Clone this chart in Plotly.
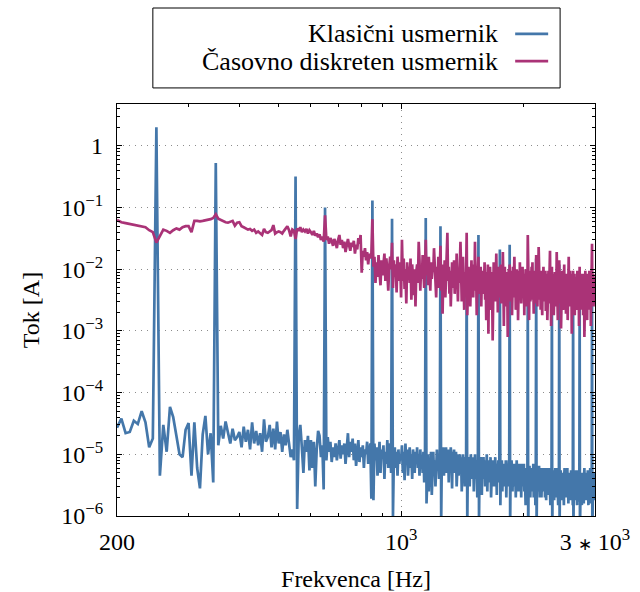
import plotly.graph_objects as go

# Frequency grid (Hz), 5 Hz resolution
frekvenca = list(range(200, 3001, 5))

# Klasični usmernik – current amplitude [A]
klasicni = [
    2.7e-5, 3.8e-5, 2.2e-5, 2.3e-5, 3.5e-5, 3.1e-5, 5.0e-5, 3.3e-5, 1.3e-5, 1.8e-5,   # 200
    2.0, 4.5e-6, 3.0e-5, 1.1e-5, 5.9e-5, 4.0e-5, 2.0e-5, 1.0e-5, 9e-6, 2.5e-5,        # 250
    3.2e-5, 4.5e-6, 3.3e-5, 6e-6, 2.8e-6, 2.1e-5, 4.2e-5, 1.0e-5, 2.2e-5, 3.5e-6,     # 300
    0.53, 1.4e-5, 2.9e-5, 1.8e-5, 3.4e-5, 2.2e-5, 1.5e-5, 2.6e-5, 1.7e-5, 1.9e-5,     # 350
    2.3e-5, 1.3e-5, 2.8e-5, 1.6e-5, 2.5e-5, 1.2e-5, 3.3e-5, 1.5e-5, 2.4e-5, 1.4e-5,   # 400
    2.2e-5, 1.1e-5, 3.7e-5, 1.6e-5, 1.9e-5, 3.0e-5, 1.3e-5, 2.6e-5, 1.2e-5, 3.4e-5,   # 450
    1.5e-5, 2.3e-5, 1.1e-5, 2.1e-5, 1.4e-5, 2.5e-5, 1.6e-5, 9e-6, 1.2e-5, 8e-6,       # 500
    0.32, 1.3e-6, 2.0e-5, 3.0e-5, 1.3e-5, 5e-6, 1.7e-5, 1.1e-5, 2.0e-5, 5.5e-6,       # 550
    1.7e-5, 6e-6, 1.6e-5, 3.0e-6, 1.2e-5, 2.4e-5, 2.0e-5, 9e-6, 1.4e-5, 2.7e-6,       # 600
    0.1, 8e-6, 1.9e-5, 1.1e-5, 1.6e-5, 7.5e-6, 1.3e-5, 9e-6, 1.5e-5, 8e-6,            # 650
    1.2e-5, 1.7e-5, 8.5e-6, 1.4e-5, 1.0e-5, 1.5e-5, 7e-6, 1.3e-5, 2.2e-5, 9e-6,       # 700
    1.6e-5, 1.1e-5, 1.8e-5, 8e-6, 1.5e-5, 6.5e-6, 1.2e-5, 1.7e-5, 7.5e-6, 1.3e-5,     # 750
    9e-6, 1.4e-5, 6e-6, 1.2e-5, 1.0e-5, 1.6e-5, 7e-6, 1.1e-5, 1.5e-5, 1.9e-6,         # 800
    0.13, 1.8e-6, 1.5e-5, 8e-6, 1.3e-5, 4.5e-6, 1.1e-5, 1.6e-5, 5e-6, 1.2e-5,         # 850
    9e-6, 1.4e-5, 4e-6, 1.1e-5, 7e-6, 1.7e-5, 6e-6, 1.0e-5, 1.5e-5, 5e-6,             # 900
    0.066, 1.0e-6, 9e-6, 1.3e-5, 6e-6, 1.1e-5, 4.5e-6, 1.2e-5, 7e-6, 1.0e-5,          # 950
    8e-6, 1.4e-5, 5e-6, 1.1e-5, 3.8e-6, 1.5e-5, 7e-6, 1.2e-5, 4.5e-6, 9e-6,           # 1000
    1.3e-5, 6e-6, 1.0e-5, 4e-6, 1.2e-5, 8e-6, 5e-6, 1.1e-5, 7e-6, 1.3e-5,             # 1050
    6e-6, 1.0e-5, 4.5e-6, 1.2e-5, 7e-6, 9e-6, 5e-6, 1.1e-5, 3.5e-6, 8e-6,             # 1100
    0.068, 1.6e-6, 7e-6, 1.0e-5, 2.5e-6, 8e-6, 5e-6, 1.1e-5, 2.2e-6, 7e-6,            # 1150
    1.1e-5, 5e-6, 8e-6, 3e-6, 9e-6, 1.2e-5, 6e-6, 1.0e-5, 4e-6, 7e-6,                 # 1200
    0.05, 8e-7, 1.0e-5, 6e-6, 1.3e-5, 4.5e-6, 1.1e-5, 7e-6, 1.3e-5, 5e-6,             # 1250
    9e-6, 1.2e-5, 3.5e-6, 1.0e-5, 6e-6, 1.3e-5, 8e-6, 2.8e-6, 1.1e-5, 7e-6,           # 1300
    1.2e-5, 5e-6, 9e-6, 1.1e-5, 3e-6, 8e-6, 1.0e-5, 4.5e-6, 7e-6, 1.0e-5,             # 1350
    6e-6, 9e-6, 2.5e-6, 8e-6, 1.0e-5, 5e-6, 7e-6, 3e-6, 9e-6, 4e-6,                   # 1400
    0.012, 7e-7, 8e-6, 5e-6, 9e-6, 3e-6, 7e-6, 1.0e-5, 4e-6, 8e-6,                    # 1450
    5e-6, 9e-6, 2.5e-6, 7e-6, 1.0e-5, 4e-6, 6e-6, 8e-6, 2e-6, 6e-6,                   # 1500
    0.036, 8e-7, 7e-6, 4e-6, 9e-6, 5e-6, 2.2e-6, 8e-6, 6e-6, 9e-6,                    # 1550
    4e-6, 7e-6, 3e-6, 8e-6, 5e-6, 1.0e-5, 2.5e-6, 6e-6, 8e-6, 3.5e-6,                 # 1600
    7e-6, 5e-6, 9e-6, 2e-6, 6e-6, 8e-6, 4e-6, 7e-6, 3e-6, 8e-6,                       # 1650
    5e-6, 9e-6, 3e-6, 6e-6, 2.2e-6, 7e-6, 5e-6, 8e-6, 3.5e-6, 6e-6,                   # 1700
    0.021, 1.5e-6, 6e-6, 4e-6, 8e-6, 2.5e-6, 6e-6, 4.5e-6, 7e-6, 3e-6,                # 1750
    7e-6, 4e-6, 8e-6, 2e-6, 5e-6, 7e-6, 3e-6, 6e-6, 8e-6, 4e-6,                       # 1800
    0.025, 7e-7, 6e-6, 3.5e-6, 8e-6, 5e-6, 2.5e-6, 7e-6, 4e-6, 6e-6,                  # 1850
    3e-6, 7e-6, 5e-6, 2e-6, 6e-6, 8e-6, 3.5e-6, 5e-6, 7e-6, 2.5e-6,                   # 1900
    6e-6, 4e-6, 7e-6, 3e-6, 5.5e-6, 2e-6, 6e-6, 4e-6, 7e-6, 3e-6,                     # 1950
    5e-6, 7e-6, 2.5e-6, 6e-6, 4e-6, 1.5e-6, 6e-6, 3e-6, 5e-6, 2e-6,                   # 2000
    0.007, 5e-7, 5e-6, 3e-6, 6.5e-6, 4e-6, 2e-6, 6e-6, 3.5e-6, 5e-6,                  # 2050
    2.5e-6, 6e-6, 4e-6, 7e-6, 2e-6, 5e-6, 3.5e-6, 6e-6, 1.5e-6, 5e-6,                 # 2100
    0.015, 6e-7, 4e-6, 6e-6, 2.5e-6, 5e-6, 3e-6, 6.5e-6, 4e-6, 2e-6,                  # 2150
    5e-6, 3e-6, 6e-6, 2e-6, 4.5e-6, 6e-6, 3e-6, 5e-6, 2.5e-6, 6e-6,                   # 2200
    3.5e-6, 5e-6, 2e-6, 6e-6, 4e-6, 1.8e-6, 5e-6, 3e-6, 6e-6, 4e-6,                   # 2250
    2.2e-6, 5e-6, 3.5e-6, 6e-6, 2.5e-6, 4.5e-6, 1.5e-6, 5e-6, 3e-6, 4e-6,             # 2300
    0.005, 5e-7, 4e-6, 2.5e-6, 5.5e-6, 3.5e-6, 1.8e-6, 5e-6, 3e-6, 6e-6,              # 2350
    4e-6, 2e-6, 5e-6, 3e-6, 6e-6, 2.5e-6, 4.5e-6, 1.5e-6, 5e-6, 3e-6,                 # 2400
    0.012, 6e-7, 4.5e-6, 2.5e-6, 5.5e-6, 3e-6, 4e-6, 1.8e-6, 5e-6, 3.5e-6,            # 2450
    2.5e-6, 5e-6, 3.5e-6, 1.5e-6, 4.5e-6, 6e-6, 2.5e-6, 4e-6, 3e-6, 5e-6,             # 2500
    2e-6, 4.5e-6, 3e-6, 6e-6, 2.2e-6, 4e-6, 1.6e-6, 5e-6, 3.5e-6, 2.5e-6,             # 2550
    5e-6, 3e-6, 4.5e-6, 1.8e-6, 5.5e-6, 3e-6, 2.2e-6, 4.5e-6, 3.5e-6, 1.5e-6,         # 2600
    0.004, 5e-7, 4e-6, 2.5e-6, 5e-6, 3e-6, 1.8e-6, 4.5e-6, 3.5e-6, 5.5e-6,            # 2650
    2.5e-6, 4.5e-6, 1.5e-6, 5e-6, 3e-6, 4e-6, 2e-6, 5.5e-6, 3e-6, 1.7e-6,             # 2700
    0.004, 6e-7, 4.5e-6, 3e-6, 5e-6, 2e-6, 4e-6, 1.5e-6, 5e-6, 3.5e-6,                # 2750
    2.5e-6, 5e-6, 3e-6, 1.6e-6, 4.5e-6, 6e-6, 2.5e-6, 4e-6, 2e-6, 5e-6,               # 2800
    3.5e-6, 1.8e-6, 5e-6, 3e-6, 4.5e-6, 2.2e-6, 5.5e-6, 3e-6, 1.5e-6, 4.5e-6,         # 2850
    3e-6, 5e-6, 2e-6, 4e-6, 6e-6, 2.5e-6, 4.5e-6, 1.6e-6, 5e-6, 3e-6,                 # 2900
    0.005, 5e-7, 4e-6, 2.5e-6, 5e-6, 3e-6, 1.8e-6, 4.5e-6, 3e-6, 5e-6,                # 2950
    3.5e-6,                                                                           # 3000
]

# Časovno diskreten usmernik – current amplitude [A]
diskretni = [
    0.063, 0.058, 0.056, 0.054, 0.053, 0.051, 0.050, 0.048, 0.043, 0.040,              # 200
    0.027, 0.035, 0.044, 0.042, 0.039, 0.043, 0.046, 0.044, 0.048, 0.050,              # 250
    0.050, 0.040, 0.061, 0.061, 0.060, 0.061, 0.062, 0.063, 0.065, 0.068,              # 300
    0.078, 0.066, 0.063, 0.061, 0.058, 0.057, 0.059, 0.061, 0.051, 0.057,              # 350
    0.058, 0.050, 0.048, 0.046, 0.044, 0.045, 0.042, 0.044, 0.039, 0.041,              # 400
    0.038, 0.036, 0.045, 0.040, 0.039, 0.041, 0.043, 0.052, 0.038, 0.040,              # 450
    0.041, 0.040, 0.038, 0.042, 0.046, 0.050, 0.043, 0.034, 0.044, 0.042,              # 500
    0.031, 0.046, 0.042, 0.048, 0.040, 0.044, 0.041, 0.045, 0.038, 0.043,              # 550
    0.040, 0.036, 0.042, 0.035, 0.038, 0.033, 0.037, 0.030, 0.034, 0.028,              # 600
    0.075, 0.030, 0.034, 0.026, 0.032, 0.029, 0.024, 0.031, 0.027, 0.022,              # 650
    0.030, 0.036, 0.025, 0.030, 0.022, 0.028, 0.019, 0.026, 0.031, 0.024,              # 700
    0.020, 0.027, 0.023, 0.029, 0.018, 0.025, 0.021, 0.032, 0.026, 0.036,              # 750
    0.0088, 0.020, 0.016, 0.022, 0.014, 0.019, 0.012, 0.018, 0.015, 0.017,             # 800
    0.065, 0.011, 0.016, 0.006, 0.013, 0.0075, 0.017, 0.009, 0.0055, 0.014,            # 850
    0.008, 0.012, 0.018, 0.0065, 0.015, 0.009, 0.0045, 0.011, 0.016, 0.010,            # 900
    0.027, 0.005, 0.014, 0.0075, 0.012, 0.0042, 0.016, 0.009, 0.0065, 0.013,           # 950
    0.0035, 0.030, 0.0065, 0.015, 0.0048, 0.010, 0.0028, 0.013, 0.0075, 0.011,         # 1000
    0.006, 0.015, 0.0032, 0.012, 0.0075, 0.0038, 0.010, 0.0025, 0.009, 0.012,          # 1050
    0.006, 0.028, 0.014, 0.0045, 0.011, 0.007, 0.017, 0.008, 0.005, 0.010,             # 1100
    0.030, 0.008, 0.012, 0.0055, 0.016, 0.009, 0.0045, 0.013, 0.007, 0.011,            # 1150
    0.009, 0.022, 0.013, 0.007, 0.0035, 0.011, 0.006, 0.016, 0.005, 0.010,             # 1200
    0.024, 0.0045, 0.012, 0.0019, 0.009, 0.006, 0.014, 0.0035, 0.008, 0.012,           # 1250
    0.039, 0.0065, 0.011, 0.004, 0.0095, 0.0025, 0.008, 0.013, 0.005, 0.0075,          # 1300
    0.014, 0.004, 0.009, 0.0055, 0.018, 0.007, 0.003, 0.010, 0.006, 0.012,             # 1350
    0.028, 0.0095, 0.003, 0.008, 0.016, 0.006, 0.0022, 0.009, 0.0045, 0.007,           # 1400
    0.039, 0.0018, 0.0075, 0.011, 0.004, 0.009, 0.0025, 0.007, 0.014, 0.005,           # 1450
    0.008, 0.0035, 0.012, 0.006, 0.028, 0.0045, 0.0095, 0.0018, 0.007, 0.010,          # 1500
    0.016, 0.004, 0.0085, 0.005, 0.011, 0.0025, 0.007, 0.0095, 0.004, 0.008,           # 1550
    0.0055, 0.013, 0.0032, 0.0075, 0.0015, 0.009, 0.0055, 0.012, 0.0009, 0.007,        # 1600
    0.0045, 0.011, 0.0065, 0.0022, 0.009, 0.005, 0.0007, 0.008, 0.013, 0.004,          # 1650
    0.0095, 0.003, 0.007, 0.018, 0.0045, 0.0085, 0.002, 0.0065, 0.011, 0.0035,         # 1700
    0.009, 0.0055, 0.012, 0.0028, 0.008, 0.0045, 0.019, 0.006, 0.0012, 0.0075,         # 1750
    0.011, 0.004, 0.007, 0.0025, 0.009, 0.0055, 0.0008, 0.0065, 0.010, 0.004,          # 1800
    0.012, 0.003, 0.008, 0.0045, 0.0095, 0.0018, 0.006, 0.011, 0.0035, 0.007,          # 1850
    0.016, 0.005, 0.0085, 0.0022, 0.0065, 0.010, 0.0035, 0.007, 0.0015, 0.006,         # 1900
    0.0095, 0.0038, 0.013, 0.005, 0.008, 0.0028, 0.0065, 0.004, 0.011, 0.0055,         # 1950
    0.0035, 0.0085, 0.0018, 0.007, 0.0045, 0.010, 0.0025, 0.0065, 0.009, 0.0038,       # 2000
    0.036, 0.0045, 0.008, 0.0015, 0.0065, 0.0095, 0.003, 0.0075, 0.0042, 0.011,        # 2050
    0.0055, 0.013, 0.0032, 0.007, 0.0019, 0.0085, 0.0048, 0.0095, 0.0028, 0.006,       # 2100
    0.017, 0.004, 0.0075, 0.0025, 0.009, 0.0055, 0.023, 0.005, 0.0085, 0.0032,         # 2150
    0.007, 0.0022, 0.0095, 0.0045, 0.0065, 0.0018, 0.008, 0.004, 0.011, 0.0055,        # 2200
    0.003, 0.0075, 0.0048, 0.0095, 0.0021, 0.006, 0.0035, 0.0085, 0.0015, 0.0065,      # 2250
    0.004, 0.0095, 0.0028, 0.007, 0.0045, 0.020, 0.0035, 0.0075, 0.0012, 0.006,        # 2300
    0.011, 0.0032, 0.0065, 0.0045, 0.0085, 0.0018, 0.0065, 0.0038, 0.009, 0.005,       # 2350
    0.0025, 0.007, 0.0042, 0.019, 0.0035, 0.006, 0.0015, 0.0075, 0.0045, 0.0085,       # 2400
    0.014, 0.0028, 0.0065, 0.0042, 0.008, 0.0011, 0.0055, 0.0035, 0.0095, 0.0045,     # 2450
    0.0065, 0.0022, 0.0075, 0.0038, 0.012, 0.0025, 0.006, 0.0045, 0.0085, 0.0019,      # 2500
    0.0055, 0.0085, 0.0032, 0.0065, 0.0015, 0.0075, 0.0042, 0.016, 0.0035, 0.006,      # 2550
    0.0048, 0.0095, 0.0025, 0.007, 0.0038, 0.0065, 0.0009, 0.0055, 0.0085, 0.0035,     # 2600
    0.0095, 0.0028, 0.0065, 0.0045, 0.0085, 0.0018, 0.0055, 0.0032, 0.0075, 0.0048,    # 2650
    0.0022, 0.0065, 0.0042, 0.0095, 0.0025, 0.0055, 0.0038, 0.0075, 0.0012, 0.006,     # 2700
    0.011, 0.0035, 0.0065, 0.0022, 0.0075, 0.0045, 0.0085, 0.0028, 0.0055, 0.0038,     # 2750
    0.0065, 0.0018, 0.0085, 0.0042, 0.0055, 0.0008, 0.0065, 0.0035, 0.0095, 0.0045,    # 2800
    0.0028, 0.0075, 0.0042, 0.0065, 0.0015, 0.0055, 0.0032, 0.0085, 0.0025, 0.0065,    # 2850
    0.0038, 0.0095, 0.0022, 0.006, 0.0045, 0.0075, 0.0012, 0.0055, 0.0035, 0.0085,     # 2900
    0.026, 0.0032, 0.0065, 0.0045, 0.0085, 0.0025, 0.0058, 0.0038, 0.0075, 0.0042,     # 2950
    0.0055,                                                                            # 3000
]

series_names = ["Klasični usmernik", "Časovno diskreten usmernik"]
series_colors = ["#4477AA", "#AA3377"]

x_tickvals = [200, 1000, 3000]
x_ticktext = ["200", "10<sup>3</sup>",
              "3 <span style='font-size:17px'>∗</span> 10<sup>3</sup>"]
y_tickvals = [1e-6, 1e-5, 1e-4, 1e-3, 1e-2, 1e-1, 1]
y_ticktext = ["10<sup>−6</sup>", "10<sup>−5</sup>", "10<sup>−4</sup>",
              "10<sup>−3</sup>", "10<sup>−2</sup>", "10<sup>−1</sup>", "1"]

FONT = "Liberation Serif"

fig = go.Figure()
for name, vals, col in zip(series_names, [klasicni, diskretni], series_colors):
    fig.add_trace(go.Scatter(x=frekvenca[:len(vals)], y=vals, mode="lines", name=name,
                             line=dict(color=col, width=2.7), showlegend=False))

y_minor = [m * 10.0 ** e for e in range(-6, 1) for m in range(2, 10)]
x_minor = [300, 400, 500, 600, 700, 800, 900, 2000]

fig.update_layout(
    width=640, height=592,
    margin=dict(l=117, r=45, t=104, b=76),
    paper_bgcolor="white", plot_bgcolor="white",
    font=dict(family=FONT, size=24, color="black"),
)
common = dict(
    type="log",
    ticks="inside", ticklen=5, tickcolor="black",
    showline=True, linecolor="black", linewidth=1.2, mirror="allticks",
    showgrid=True, gridcolor="#8c8c8c", griddash="1px,5px", gridwidth=1.2,
    zeroline=False, automargin=False,
    tickfont=dict(family=FONT, size=24, color="black"),
)
fig.update_xaxes(
    range=[2.30103, 3.47712],
    tickvals=x_tickvals, ticktext=x_ticktext,
    minor=dict(tickvals=x_minor, ticks="inside", ticklen=3, tickcolor="black", showgrid=False),
    title=dict(text="Frekvenca [Hz]", font=dict(family=FONT, size=24), standoff=16),
    ticklabelstandoff=4,
    **common,
)
fig.update_yaxes(
    range=[-6, 0.68],
    tickvals=y_tickvals, ticktext=y_ticktext,
    minor=dict(tickvals=y_minor, ticks="inside", ticklen=3, tickcolor="black", showgrid=False),
    title=dict(text="Tok [A]", font=dict(family=FONT, size=24), standoff=14),
    ticklabelstandoff=8,
    **common,
)

# Legend box (pgfplots style: text right-aligned, line sample on the right)
fig.add_shape(type="rect", xref="paper", yref="paper", x0=0.075, x1=0.927, y0=1.039, y1=1.233,
              line=dict(color="black", width=1), fillcolor="white", layer="above")
leg_y = [1.170, 1.104]
for name, col, yy in zip(series_names, series_colors, leg_y):
    fig.add_annotation(xref="paper", yref="paper", x=0.801, y=yy, text=name, showarrow=False,
                       xanchor="right", yanchor="middle", font=dict(family=FONT, size=26, color="black"))
    fig.add_shape(type="line", xref="paper", yref="paper", x0=0.833, x1=0.902, y0=yy, y1=yy,
                  line=dict(color=col, width=2.7))

fig.write_html("out.html", config={"displayModeBar": False},
               post_script="document.body.style.margin='0';")
